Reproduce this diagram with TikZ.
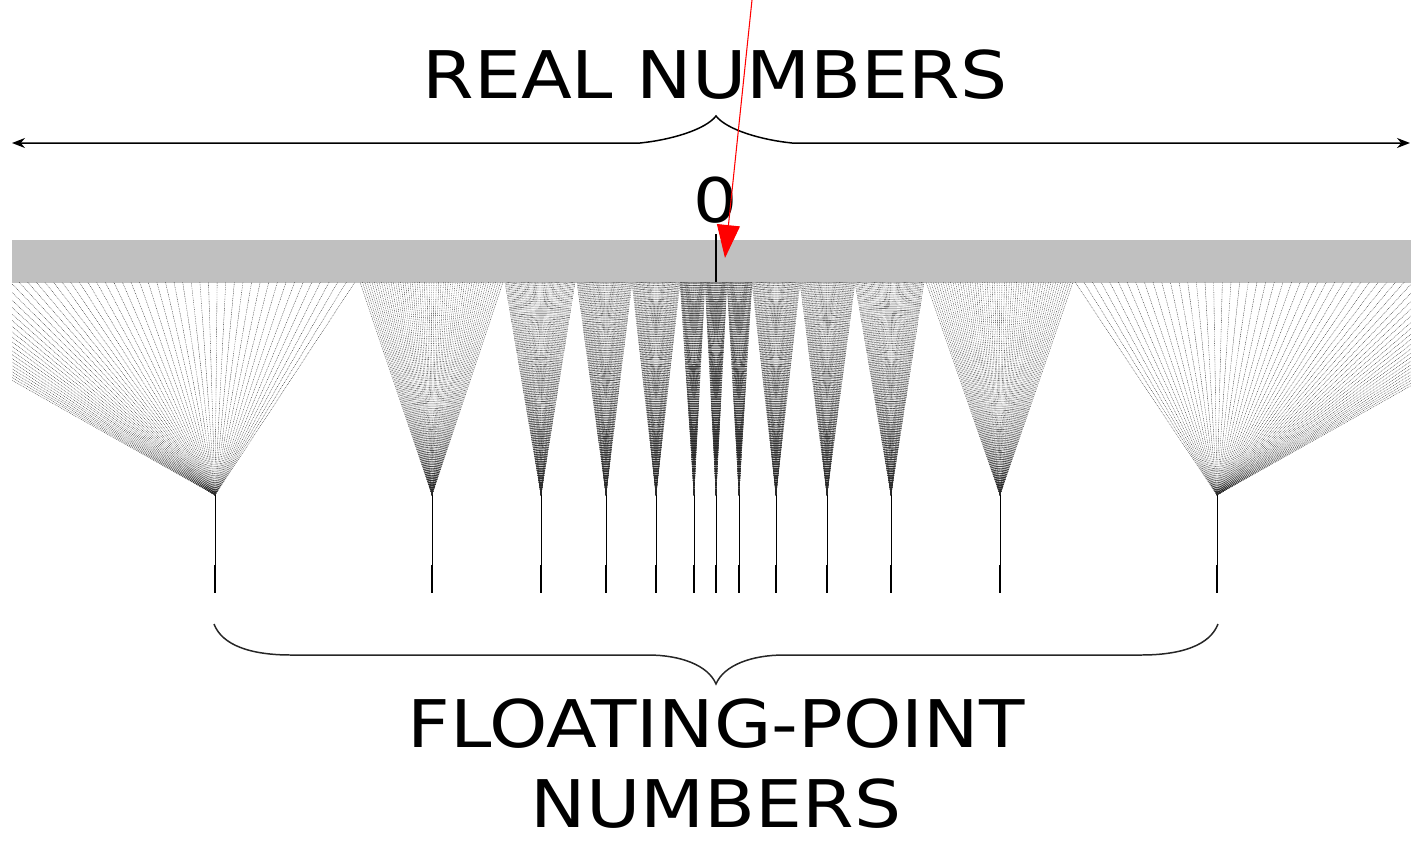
\documentclass[tikz,border=0pt]{standalone}
\usepackage{fontspec}
\newfontfamily\labelfont[FakeStretch=1.13]{DejaVu Sans}
\usetikzlibrary{arrows.meta, positioning}

\begin{document}
\begin{tikzpicture}[x=0.02cm, y=-0.02cm]
% Define styles
\tikzstyle{bigtext} = [font=\labelfont\fontsize{37.4}{46}\selectfont, inner sep=0pt, align=center]
\tikzstyle{realline} = [line width=0.85pt, {Stealth[length=0.26cm, width=0.2cm]}-{Stealth[length=0.26cm, width=0.2cm]}]
\tikzstyle{brace} = [line width=0.85pt, black!85]
\tikzstyle{bar} = [fill={rgb,255:red,192;green,192;blue,192}, draw=none]
\tikzstyle{fanline} = [line width=0.2pt, black!85, dash pattern=on 0.5pt off 0.5pt]
\tikzstyle{stem} = [line width=0.35pt]
\tikzstyle{tick} = [line width=1.3pt]
\tikzstyle{pointer} = [red, line width=0.6pt, -{Triangle[length=0.66cm, width=0.46cm]}]

\useasboundingbox (0,0) rectangle (1411,846);

% Real numbers
\node (real) [bigtext, anchor=base] at (715,98) {REAL NUMBERS};
\coordinate (realL) at (12,143);
\coordinate (realR) at (1410,143);
\draw [realline] (realL) -- (640,143) .. controls (670,140) and (705,130) .. (716,116)
  .. controls (727,130) and (762,140) .. (792,143) -- (realR);

% Zero
\node (zero) [bigtext, font=\labelfont\fontsize{35}{42}\selectfont, anchor=base] at (716,222) {0};
\fill [bar] (12,240) rectangle (1411,283);
\coordinate (zeroTop) at (716,234);
\coordinate (zeroBot) at (716,282);
\draw [tick] (zeroTop) -- (zeroBot);

% Fans from the real line to the floating-point numbers
\begin{scope}
\clip (12,282) rectangle (1411,600);
\foreach \ax/\lx/\rx [count=\k] in {215/-162/355, 432/360/503, 541/505/575,
    606/577/632, 656/632/680, 694/680/705, 716/705/727, 739/727/752,
    776/752/800, 827/800/855, 891/855/924, 1000/926/1073, 1217/1075/1595}{
  \coordinate (fp\k) at (\ax,495);
  \coordinate (fpt\k) at (\ax,593);
  \pgfmathsetmacro{\dx}{(\rx-\lx)/60}
  \foreach \t in {0,...,60}
    \draw [fanline] (fp\k) -- ({\lx+\dx*\t},282);
  \draw [stem] (fp\k) -- (fpt\k);
  \draw [tick] (\ax,565) -- (fpt\k);
}
\end{scope}

% Floating-point numbers
\draw [brace] (214,624) .. controls (222,645) and (250,655) .. (291,655) -- (648,655)
  .. controls (680,655) and (708,665) .. (716,684)
  .. controls (724,665) and (752,655) .. (784,655) -- (1141,655)
  .. controls (1182,655) and (1210,645) .. (1218,624);
\node (float) [bigtext, anchor=north] at (716,698) {FLOATING-POINT\\NUMBERS};

% Pointer
\coordinate (pointerStart) at (752,0);
\coordinate (pointerEnd) at (725,258);
\draw [pointer] (pointerStart) -- (pointerEnd);
\end{tikzpicture}
\end{document}
